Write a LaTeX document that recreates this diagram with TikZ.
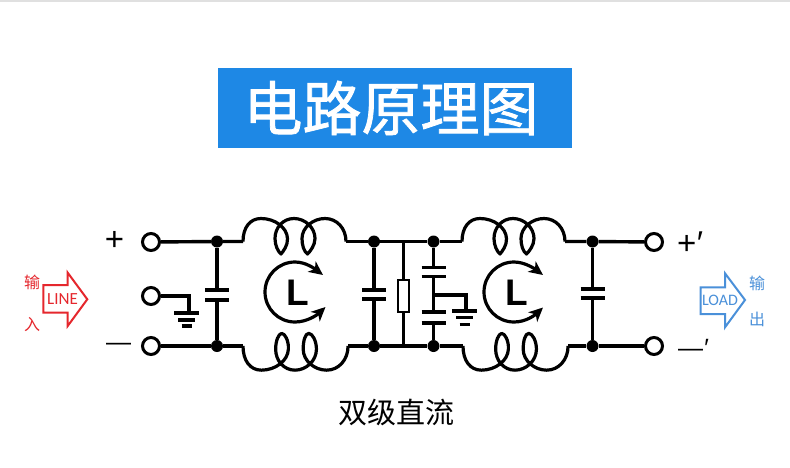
\documentclass[tikz,border=0pt]{standalone}
\usepackage{fontspec}
\setmainfont{Liberation Sans}
\newfontfamily\cjk{Noto Sans CJK SC}
\newfontfamily\cjkheavy[FakeBold=1.3]{Noto Sans CJK SC}
\newfontfamily\cali{Carlito}
\usetikzlibrary{arrows.meta}
\definecolor{titleblue}{HTML}{1E88E5}
\definecolor{linered}{HTML}{E5272D}
\definecolor{loadblue}{HTML}{4A90D9}
\tikzset{
  wire/.style={line width=3.4pt,black},
  plate/.style={line width=3.6pt,black},
  junction/.style={circle,fill=black,inner sep=0pt,minimum size=12pt},
  terminal/.style={circle,draw=black,line width=3pt,fill=white,inner sep=0pt,minimum size=17pt},
  sym/.style={inner sep=0pt,font=\fontsize{33}{33}\selectfont},
  rotarrow/.style={line width=3.2pt,{Stealth[length=14pt,width=13pt,inset=4pt]}-{Stealth[length=14pt,width=13pt,inset=4pt]}},
  flow/.style={line width=2pt,line join=miter},
  coilline/.style={line width=3.2pt,line join=round}
}
% top coil: narrow, pointed loops
\newcommand{\coilpath}{(0,0) .. controls (0,-14) and (7,-23) .. (18,-23)
  .. controls (32,-23) and (44,-14) .. (44.5,-3)
  .. controls (45,4) and (40,10) .. (38,12.5)
  .. controls (35,10) and (32,4) .. (32,-3)
  .. controls (32,-14) and (40,-23) .. (51,-23)
  .. controls (62,-23) and (72,-14) .. (72,-3)
  .. controls (72,4) and (67,10) .. (64.5,12.5)
  .. controls (61,10) and (59,4) .. (59,-3)
  .. controls (59,-14) and (70,-23) .. (82,-23)
  .. controls (94,-23) and (103,-13) .. (103,0)}
% bottom coil: rounder loops
\newcommand{\coilpathround}{(0,0) .. controls (0,-14) and (7,-23) .. (18,-23)
  .. controls (32,-23) and (44,-14) .. (44.5,-3)
  .. controls (45,5) and (41,12) .. (38,12)
  .. controls (35,12) and (32,5) .. (32,-3)
  .. controls (32,-14) and (40,-23) .. (51,-23)
  .. controls (62,-23) and (72,-14) .. (72,-3)
  .. controls (72,5) and (68,12) .. (64.5,12)
  .. controls (61,12) and (59,5) .. (59,-3)
  .. controls (59,-14) and (70,-23) .. (82,-23)
  .. controls (94,-23) and (103,-13) .. (103,0)}
\newcommand{\groundbars}[4]{% x, y1, y2, y3
  \draw[plate] (#1-12.5,#2) -- (#1+12.5,#2);
  \draw[plate] (#1-8.5,#3) -- (#1+8.5,#3);
  \draw[plate] (#1-5,#4) -- (#1+5,#4);}
\begin{document}
\begin{tikzpicture}[x=1pt,y=-1pt]
\useasboundingbox (0,0) rectangle (790,467);
\fill[white] (0,0) rectangle (790,467);
\fill[black!12] (0,0) rectangle (790,2);
% title
\node[fill=titleblue,minimum width=354pt,minimum height=80pt,inner sep=0pt] (title) at (395,108) {};
\node[inner sep=0pt,text=white,font=\cjkheavy\fontsize{59}{59}\selectfont] (titletext) at (391,108) {电路原理图};
\node[inner sep=0pt,font=\cjk\fontsize{29}{29}\selectfont] (caption) at (396.5,412) {双级直流};
% terminals
\node[terminal] (t1) at (151,242) {};
\node[terminal] (t2) at (151,296) {};
\node[terminal] (t3) at (151,346) {};
\node[terminal] (t4) at (654,242) {};
\node[terminal] (t5) at (654,346) {};
% junctions
\foreach \n/\x in {a/217,b/374,c/433.5,d/592.5}{
  \node[junction] (\n t) at (\x,241.5) {};
  \node[junction] (\n b) at (\x,346) {};
}
% coil ends
\coordinate (c1a) at (243,241.5); \coordinate (c1b) at (346,241.5);
\coordinate (c2a) at (243,346);  \coordinate (c2b) at (348,346);
\coordinate (c3a) at (462,241.5); \coordinate (c3b) at (565,241.5);
\coordinate (c4a) at (463,346);  \coordinate (c4b) at (568,346);
% wires
\draw[wire] (t1) -- (at) -- (c1a);
\draw[wire] (c1b) -- (bt) -- (ct) -- (c3a);
\draw[wire] (c3b) -- (dt) -- (t4);
\draw[wire] (t3) -- (ab) -- (c2a);
\draw[wire] (c2b) -- (bb) -- (cb) -- (c4a);
\draw[wire] (c4b) -- (db) -- (t5);
% coils
\begin{scope}[coilline]
\draw[shift={(c1a)}] \coilpath;
\draw[shift={(c3a)}] \coilpath;
\draw[shift={(c2a)},yscale=-1.05,xscale=1.02] \coilpathround;
\draw[shift={(c4a)},yscale=-1.05,xscale=1.02] \coilpathround;
\end{scope}
% capacitors
\draw[wire] (at) -- (217,290) (217,300) -- (ab);
\draw[plate] (205,290) -- (229,290) (205,300) -- (229,300);
\draw[wire] (bt) -- (374,290) (374,299) -- (bb);
\draw[plate] (362,290) -- (386,290) (362,299) -- (386,299);
\draw[wire] (dt) -- (592.5,289) (592.5,298) -- (db);
\draw[plate] (580.5,289) -- (604.5,289) (580.5,298) -- (604.5,298);
% mid capacitors
\draw[wire] (ct) -- (433.5,267.5) (433.5,276.5) -- (433.5,312) (433.5,323) -- (cb);
\draw[plate] (421.5,267.5) -- (445.5,267.5) (421.5,276.5) -- (445.5,276.5);
\draw[plate] (421.5,312) -- (445.5,312) (421.5,323) -- (445.5,323);
% resistor
\coordinate (rt) at (403.5,241.5); \coordinate (rb) at (403.5,346);
\draw[wire] (rt) -- (rb);
\node[draw=black,line width=2pt,fill=white,minimum width=11pt,minimum height=32pt,inner sep=0pt] (res) at (403,295.5) {};
% grounds
\draw[line width=3.2pt] (t2) -- (189,296) -- (189,313);
\groundbars{186.5}{313}{320}{326}
\draw[line width=3.2pt] (433.5,295) -- (466,295) -- (466,311);
\groundbars{464.5}{311}{317.5}{324.5}
% rotation
\draw[rotarrow] (323,275) .. controls (315,269) and (306,262) .. (295,262)
  .. controls (278.4,262) and (265,275.4) .. (265,292)
  .. controls (265,308.6) and (278.4,322) .. (295,322)
  .. controls (307,322) and (317,315) .. (325.5,307);
\draw[rotarrow] (543,275) .. controls (535,269) and (525,262) .. (514,262)
  .. controls (497.4,262) and (484,275.4) .. (484,292)
  .. controls (484,308.6) and (497.4,322) .. (514,322)
  .. controls (526,322) and (535,315) .. (543,307.5);
\node[inner sep=0pt,font=\fontsize{37}{37}\selectfont\bfseries] (l1) at (297.5,293) {L};
\node[inner sep=0pt,font=\fontsize{37}{37}\selectfont\bfseries] (l2) at (516.5,293) {L};
% signs
\node[sym] (plus) at (114.5,241) {+};
\node[sym,font=\fontsize{25}{25}\selectfont] (minus) at (118.5,347) {—};
\node[sym,anchor=west] (plusp) at (677,243) {+\kern-1pt\textit{\char"2032}};
\node[sym,anchor=west,font=\fontsize{25}{25}\selectfont] (minusp) at (678,348) {—\textit{\char"2032}};
% flow arrows
\draw[flow,linered] (43.3,285) -- (67.7,285) -- (67.7,272.7) -- (87.3,299.3) -- (67.7,326) -- (67.7,312.7) -- (43.3,312.7) -- cycle;
\node[inner sep=0pt,text=linered,font=\cali\fontsize{17}{17}\selectfont] (line) at (62.5,299) {LINE};
\node[inner sep=0pt,text=linered,font=\cjk\fontsize{16}{16}\selectfont] (in1) at (32,282) {输};
\node[inner sep=0pt,text=linered,font=\cjk\fontsize{16}{16}\selectfont] (in2) at (32,325) {入};
\draw[flow,loadblue] (700.7,287.3) -- (725,287.3) -- (725,273.3) -- (745,300) -- (725,327.3) -- (725,314) -- (700.7,314) -- cycle;
\node[inner sep=0pt,text=loadblue,font=\cali\fontsize{16}{16}\selectfont] (load) at (720,300.7) {LOAD};
\node[inner sep=0pt,text=loadblue,font=\cjk\fontsize{16}{16}\selectfont] (out1) at (757,283) {输};
\node[inner sep=0pt,text=loadblue,font=\cjk\fontsize{16}{16}\selectfont] (out2) at (757,319) {出};
\end{tikzpicture}
\end{document}
